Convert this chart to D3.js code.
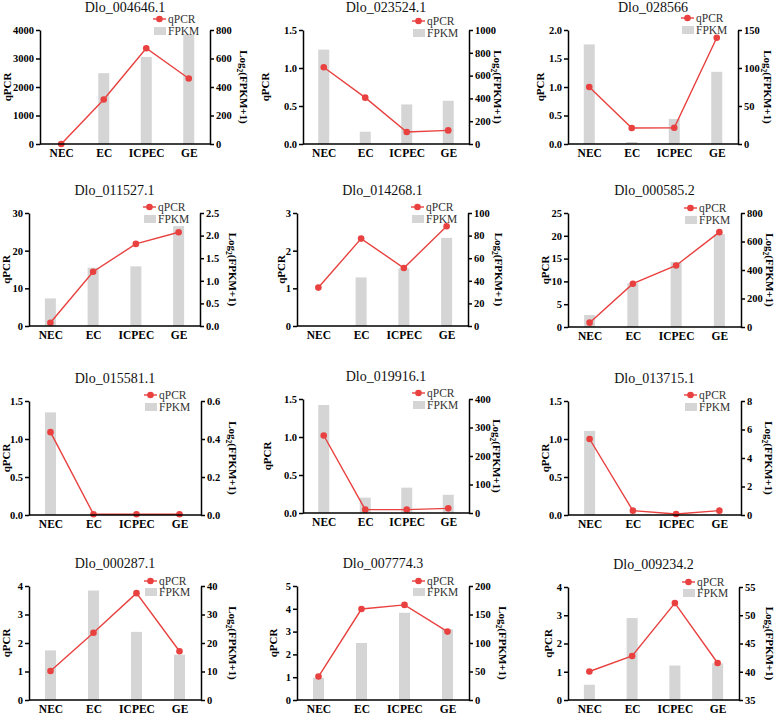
<!DOCTYPE html>
<html>
<head>
<meta charset="utf-8">
<script src="https://cdn.jsdelivr.net/npm/d3@7"></script>
<style>
  body { margin: 0; background: #fff; }
  svg text { font-family: "Liberation Serif", "Times New Roman", serif; }
  .axis path, .axis line { stroke: #000; stroke-width: 1.5; }
  .axis text { font-weight: bold; font-size: 10.5px; fill: #000; }
</style>
</head>
<body>
<div id="chart"></div>
<script>
// data
const categories = ['NEC', 'EC', 'ICPEC', 'GE'];
const genes = ['Dlo_004646.1', 'Dlo_023524.1', 'Dlo_028566',
               'Dlo_011527.1', 'Dlo_014268.1', 'Dlo_000585.2',
               'Dlo_015581.1', 'Dlo_019916.1', 'Dlo_013715.1',
               'Dlo_000287.1', 'Dlo_007774.3', 'Dlo_009234.2'];
const qpcr = [
    [1, 1563, 3360, 2300],
    [1.01, 0.61, 0.157, 0.179],
    [1.0, 0.28, 0.285, 1.865],
    [0.88, 14.4, 21.8, 24.9],
    [1.02, 2.32, 1.54, 2.65],
    [0.95, 9.5, 13.5, 20.8],
    [1.09, 0.01, 0.01, 0.01],
    [1.02, 0.044, 0.044, 0.061],
    [1.0, 0.057, 0.013, 0.057],
    [1.02, 2.36, 3.75, 1.71],
    [1.03, 3.99, 4.17, 3.0],
    [1.01, 1.56, 3.43, 1.31]
];
const fpkm = [
    [0, 497, 611, 768],
    [828, 108, 347, 379],
    [131, 2.6, 33, 95],
    [0.61, 1.29, 1.32, 2.21],
    [0, 43, 51, 78],
    [84, 307, 457, 652],
    [0.54, 0, 0, 0],
    [379, 54, 89, 64],
    [5.9, 0, 0, 0],
    [17.4, 38.4, 23.9, 15.9],
    [39, 100, 153, 124],
    [37.7, 49.5, 41.1, 41.5]
];
const leftTicks = [
    ['0', '1000', '2000', '3000', '4000'],
    ['0.0', '0.5', '1.0', '1.5'],
    ['0.0', '0.5', '1.0', '1.5', '2.0'],
    ['0', '10', '20', '30'],
    ['0', '1', '2', '3'],
    ['0', '5', '10', '15', '20', '25'],
    ['0.0', '0.5', '1.0', '1.5'],
    ['0.0', '0.5', '1.0', '1.5'],
    ['0.0', '0.5', '1.0', '1.5'],
    ['0', '1', '2', '3', '4'],
    ['0', '1', '2', '3', '4', '5'],
    ['0', '1', '2', '3', '4']
];
const rightTicks = [
    ['0', '200', '400', '600', '800'],
    ['0', '200', '400', '600', '800', '1000'],
    ['0', '50', '100', '150'],
    ['0.0', '0.5', '1.0', '1.5', '2.0', '2.5'],
    ['0', '20', '40', '60', '80', '100'],
    ['0', '200', '400', '600', '800'],
    ['0.0', '0.2', '0.4', '0.6'],
    ['0', '100', '200', '300', '400'],
    ['0', '2', '4', '6', '8'],
    ['0', '10', '20', '30', '40'],
    ['0', '50', '100', '150', '200'],
    ['35', '40', '45', '50', '55']
];

// plot boxes (left, right, top, bottom), y-label x positions, legend offsets
const layout = [
    {l: 40,  r: 210, t: 30,  b: 144, qx: 7,   rx: 34, lg: [-11, 1]},
    {l: 303, r: 469, t: 30,  b: 144, qx: 265, rx: 29, lg: [-9, 3]},
    {l: 568, r: 738, t: 30,  b: 144, qx: 540, rx: 30, lg: [-12, 0]},
    {l: 29,  r: 200, t: 213, b: 326, qx: 6,   rx: 33, lg: [-6, 6]},
    {l: 297, r: 468, t: 213, b: 326, qx: 281, rx: 31, lg: [-6, 6]},
    {l: 568, r: 741, t: 213, b: 327, qx: 545, rx: 29, lg: [-5, 7]},
    {l: 29,  r: 201, t: 401, b: 515, qx: 6,   rx: 32, lg: [-6, 6]},
    {l: 303, r: 469, t: 399, b: 513, qx: 267, rx: 28, lg: [-6, 6]},
    {l: 568, r: 741, t: 401, b: 515, qx: 545, rx: 28, lg: [-6, 6]},
    {l: 29,  r: 201, t: 586, b: 700, qx: 6,   rx: 32, lg: [-5, 6]},
    {l: 297, r: 469, t: 586, b: 700, qx: 273, rx: 34, lg: [-5, 6]},
    {l: 568, r: 739, t: 587, b: 700, qx: 548, rx: 31, lg: [-5, 6]}
];

const red = '#e8413f';
const barColor = '#d5d5d5';

const svg = d3.select('#chart')
    .append('svg')
    .attr('width', 778)
    .attr('height', 716);

genes.forEach((gene, i) => {
    const box = layout[i];
    const lt = leftTicks[i];
    const rt = rightTicks[i];

    const x = d3.scalePoint()
        .domain(categories)
        .range([box.l, box.r])
        .padding(0.5);
    const yL = d3.scaleLinear()
        .domain([+lt[0], +lt[lt.length - 1]])
        .range([box.b, box.t]);
    const yR = d3.scaleLinear()
        .domain([+rt[0], +rt[rt.length - 1]])
        .range([box.b, box.t]);

    const g = svg.append('g');
    const rows = categories.map((c, j) => ({cat: c, q: qpcr[i][j], f: fpkm[i][j]}));

    // bars on the right axis
    const bw = 11;
    g.selectAll('rect.bar')
        .data(rows.filter(d => d.f > +rt[0]))
        .enter()
        .append('rect')
        .attr('class', 'bar')
        .attr('x', d => x(d.cat) - bw / 2)
        .attr('width', bw)
        .attr('y', d => yR(d.f))
        .attr('height', d => yR(+rt[0]) - yR(d.f))
        .attr('fill', barColor);

    // qPCR line
    const line = d3.line()
        .x(d => x(d.cat))
        .y(d => yL(d.q));
    g.append('path')
        .datum(rows)
        .attr('d', line)
        .attr('fill', 'none')
        .attr('stroke', red)
        .attr('stroke-width', 1.4);
    g.selectAll('circle.pt')
        .data(rows)
        .enter()
        .append('circle')
        .attr('class', 'pt')
        .attr('cx', d => x(d.cat))
        .attr('cy', d => yL(d.q))
        .attr('r', 3.3)
        .attr('fill', red);

    // axes
    g.append('g')
        .attr('class', 'axis')
        .attr('transform', `translate(${box.l},0)`)
        .call(d3.axisLeft(yL).tickValues(lt.map(Number)).tickFormat((d, k) => lt[k])
            .tickSize(4).tickPadding(2).tickSizeOuter(0));
    g.append('g')
        .attr('class', 'axis')
        .attr('transform', `translate(${box.r},0)`)
        .call(d3.axisRight(yR).tickValues(rt.map(Number)).tickFormat((d, k) => rt[k])
            .tickSize(4).tickPadding(2).tickSizeOuter(0));
    const xa = g.append('g')
        .attr('class', 'axis')
        .attr('transform', `translate(0,${box.b})`)
        .call(d3.axisBottom(x).tickSize(0).tickSizeOuter(0).tickPadding(5));
    xa.select('.domain').attr('d', `M${box.l},0H${box.r}`);
    xa.selectAll('text').style('font-size', '11.5px');

    // titles and axis labels
    g.append('text')
        .attr('x', (box.l + box.r) / 2)
        .attr('y', box.t - 18)
        .attr('text-anchor', 'middle')
        .style('font-size', '14px')
        .attr('fill', '#111')
        .text(gene);

    const midY = (box.t + box.b) / 2;
    g.append('text')
        .attr('transform', `translate(${box.qx + 4},${midY}) rotate(-90)`)
        .attr('text-anchor', 'middle')
        .style('font-size', '11px')
        .style('font-weight', 'bold')
        .text('qPCR');

    const rl = g.append('text')
        .attr('transform', `translate(${box.r + box.rx - 4},${midY}) rotate(90)`)
        .attr('text-anchor', 'middle')
        .style('font-size', '11px')
        .style('font-weight', 'bold');
    rl.append('tspan').text('Log');
    rl.append('tspan').attr('dy', 3).style('font-size', '7.5px').text('2');
    rl.append('tspan').attr('dy', -3).text('(FPKM+1)');

    // legend
    const lx = box.r - 57;
    const ly1 = box.t + box.lg[0];
    const ly2 = box.t + box.lg[1];
    g.append('line')
        .attr('x1', lx).attr('x2', lx + 13)
        .attr('y1', ly1).attr('y2', ly1)
        .attr('stroke', red).attr('stroke-width', 1.4);
    g.append('circle')
        .attr('cx', lx + 6.5).attr('cy', ly1).attr('r', 3.3)
        .attr('fill', red);
    g.append('text')
        .attr('x', box.r - 42).attr('y', ly1 + 4)
        .style('font-size', '11.5px').attr('fill', '#333')
        .text('qPCR');
    g.append('rect')
        .attr('x', lx + 1).attr('y', ly2 - 4)
        .attr('width', 12).attr('height', 8)
        .attr('fill', barColor);
    g.append('text')
        .attr('x', box.r - 42).attr('y', ly2 + 4)
        .style('font-size', '11.5px').attr('fill', '#333')
        .text('FPKM');
});
</script>
</body>
</html>
